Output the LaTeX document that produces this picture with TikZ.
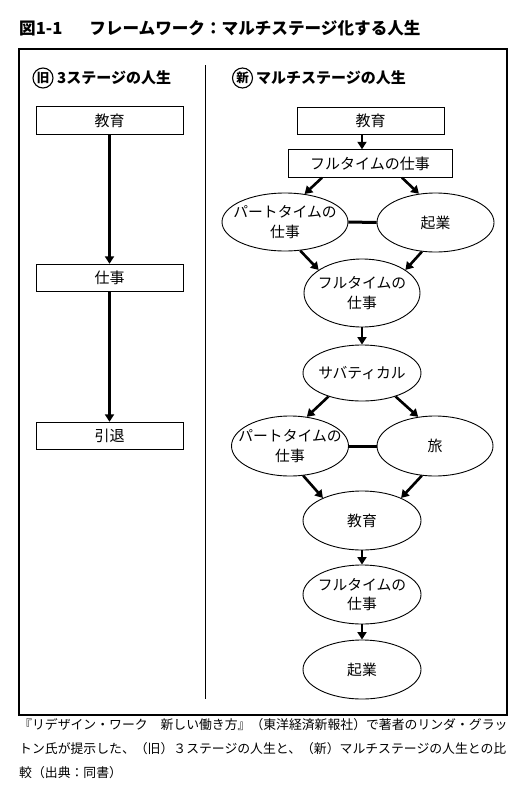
\documentclass[tikz,border=0pt]{standalone}
\usepackage{fontspec}
\setmainfont{Noto Sans CJK JP}
\usetikzlibrary{shapes.geometric,arrows.meta,calc}
\newcommand{\zl}[1]{\makebox[0pt][c]{#1}}
\begin{document}
\begin{tikzpicture}[x=1pt,y=-1pt,
  stagebox/.style={draw,line width=0.9pt,minimum height=27.5pt,inner sep=0pt,font=\fontsize{15}{17}\selectfont},
  stageell/.style={draw,ellipse,line width=0.9pt,inner sep=0pt,align=center,font=\fontsize{14.8}{19.5}\selectfont},
  flow/.style={line width=2.6pt,-{Triangle[length=7.5pt,width=9pt]}},
  link/.style={line width=3pt},
  headmark/.style={circle,draw,line width=1.1pt,minimum size=20pt,inner sep=0pt,font=\bfseries\fontsize{12.5}{14}\selectfont},
  headtext/.style={anchor=west,inner sep=0pt,font=\bfseries\fontsize{15}{17}\selectfont},
  captext/.style={anchor=west,inner sep=0pt,font=\fontsize{12.85}{15}\selectfont}
]
\useasboundingbox (0,0) rectangle (526,801);
\fill[white] (0,0) rectangle (526,801);

% title
\node[anchor=west,inner sep=0pt,font=\bfseries\fontsize{16.6}{19}\selectfont] (title) at (19,28) {図1-1\hspace{27pt}フレームワーク：マルチステージ化する人生};

% frame and divider
\draw[line width=1.1pt] (19,49) rectangle (507,715);
\coordinate (divtop) at (205,65);
\coordinate (divbot) at (205,699);
\draw[line width=1pt] (divtop) -- (divbot);

% headers
\node[headmark] (oldmark) at (43,78) {旧};
\node[headtext] (oldhead) at (57,78) {3ステージの人生};
\node[headmark] (newmark) at (242.5,78) {新};
\node[headtext] (newhead) at (256,78) {マルチステージの人生};

% left column
\node[stagebox,minimum width=147pt] (le) at (109.5,120.5) {教育};
\node[stagebox,minimum width=147pt] (lw) at (109.5,278) {仕事};
\node[stagebox,minimum width=147pt] (lr) at (109.5,436) {引退};
\draw[flow] (le.south) -- (lw.north);
\draw[flow] (lw.south) -- (lr.north);

% right column
\node[stagebox,minimum width=147pt] (re) at (370.5,121) {教育};
\node[stagebox,minimum width=164pt] (rf) at (370,163.5) {フルタイムの仕事};
\node[stageell,minimum width=126pt,minimum height=58pt] (p1) at (285,222) {\zl{パートタイムの}\\\zl{仕事}};
\node[stageell,minimum width=117pt,minimum height=59pt] (k1) at (435.5,222.5) {\zl{起業}};
\node[stageell,minimum width=116pt,minimum height=68pt] (f2) at (362,293) {\zl{フルタイムの}\\\zl{仕事}};
\node[stageell,minimum width=118pt,minimum height=56pt] (sb) at (362,373) {\zl{サバティカル}};
\node[stageell,minimum width=117pt,minimum height=60pt] (p2) at (290,446) {\zl{パートタイムの}\\\zl{仕事}};
\node[stageell,minimum width=116pt,minimum height=60pt] (tr) at (435,446) {\zl{旅}};
\node[stageell,minimum width=118pt,minimum height=59pt] (ed) at (362,520.5) {\zl{教育}};
\node[stageell,minimum width=118pt,minimum height=59pt] (f3) at (362,594.5) {\zl{フルタイムの}\\\zl{仕事}};
\node[stageell,minimum width=118pt,minimum height=59pt] (k2) at (362,669.5) {\zl{起業}};

\draw[flow] (re.south -| ed.north) -- (rf.north -| ed.north);
\draw[flow] ($(rf.south)+(-48,0)$) -- (p1.55);
\draw[flow] ($(rf.south)+(32,0)$) -- (k1.120);
\draw[link] (p1.east) -- (k1.west);
\draw[flow] (p1.-62) -- (f2.152);
\draw[flow] (k1.-115) -- (f2.28);
\draw[flow] (f2.south) -- (sb.north);
\draw[flow] (sb.-145) -- (p2.60);
\draw[flow] (sb.-35) -- (tr.120);
\draw[link] (p2.east) -- (tr.west);
\draw[flow] (p2.-66) -- (ed.150);
\draw[flow] (tr.-114) -- (ed.30);
\draw[flow] (ed.south) -- (f3.north);
\draw[flow] (f3.south) -- (k2.north);

% caption
\node[captext] (cap1) at (19,725) {『リデザイン・ワーク　新しい働き方』（東洋経済新報社）で著者のリンダ・グラッ};
\node[captext] (cap2) at (19,749) {トン氏が提示した、（旧）３ステージの人生と、（新）マルチステージの人生との比};
\node[captext] (cap3) at (19,773) {較（出典：同書）};
\end{tikzpicture}
\end{document}
